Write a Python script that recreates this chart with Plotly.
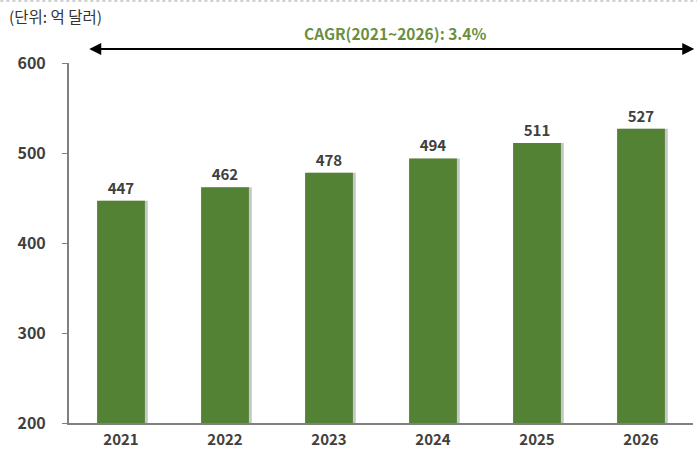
import plotly.graph_objects as go

years = ["2021", "2022", "2023", "2024", "2025", "2026"]
values = [447, 462, 478, 494, 511, 527]
y_ticks = [200, 300, 400, 500, 600]
unit_label = "(단위: 억 달러)"
cagr_label = "CAGR(2021~2026): 3.4%"

FONT = "Noto Sans CJK KR"
BOLD_Y = dict(family=FONT, size=16, color="#404040", weight="bold")
BOLD_X = dict(family=FONT, size=15, color="#404040", weight="bold")
BOLD_V = dict(family=FONT, size=15, color="#404040", weight="bold")
BAR_W = 0.46

fig = go.Figure()
# soft shadow on the right side of each bar
fig.add_trace(go.Bar(
    x=years, y=values, width=BAR_W, offset=-BAR_W / 2 + 0.028,
    marker=dict(color="rgba(0,0,0,0.22)", line=dict(width=0)),
    hoverinfo="skip",
))
fig.add_trace(go.Bar(
    x=years, y=values, width=BAR_W, offset=-BAR_W / 2,
    marker=dict(color="#548235", line=dict(width=0)),
    text=[str(v) for v in values], textposition="outside",
    textfont=BOLD_V, cliponaxis=False,
))

fig.update_layout(
    width=697, height=451,
    margin=dict(l=69, r=4, t=63, b=28),
    plot_bgcolor="white", paper_bgcolor="white",
    showlegend=False, barmode="overlay",
    font=dict(family=FONT, color="#404040"),
    xaxis=dict(showline=True, linecolor="#808080", linewidth=2, ticks="",
               tickfont=BOLD_X, ticklabelstandoff=2, automargin=False, fixedrange=True),
    yaxis=dict(range=[200, 600], tickvals=y_ticks, showline=True, linecolor="#808080",
               linewidth=2, ticks="outside", ticklen=5, tickcolor="#808080", automargin=False,
               showgrid=False, zeroline=False, tickfont=BOLD_Y, ticklabelstandoff=13),
)

fig.add_annotation(
    xref="x domain", yref="y domain", x=1.002, y=1.039, ax=0.030, ay=1.039,
    axref="x domain", ayref="y domain", text="", showarrow=True,
    arrowhead=2, startarrowhead=2, arrowside="end+start",
    arrowsize=1.2, arrowwidth=2, arrowcolor="#000000",
)
fig.add_annotation(
    xref="paper", yref="paper", x=0.524, y=1.083, text=cagr_label,
    showarrow=False, font=dict(family=FONT, size=15.5, color="#6a8f3f", weight="bold"),
    xanchor="center", yanchor="middle",
)
fig.add_annotation(
    xref="paper", yref="paper", x=-0.099, y=1.13, text=unit_label,
    showarrow=False, font=dict(family=FONT, size=15.5, color="#333333"),
    xanchor="left", yanchor="middle",
)
fig.add_shape(type="line", xref="paper", yref="paper", x0=-0.11, x1=1.01,
              y0=1.172, y1=1.172, line=dict(color="#c0c0c0", width=1.5, dash="dot"))

fig.write_html("out.html", config={"displayModeBar": False},
               post_script="document.body.style.margin='0';")
